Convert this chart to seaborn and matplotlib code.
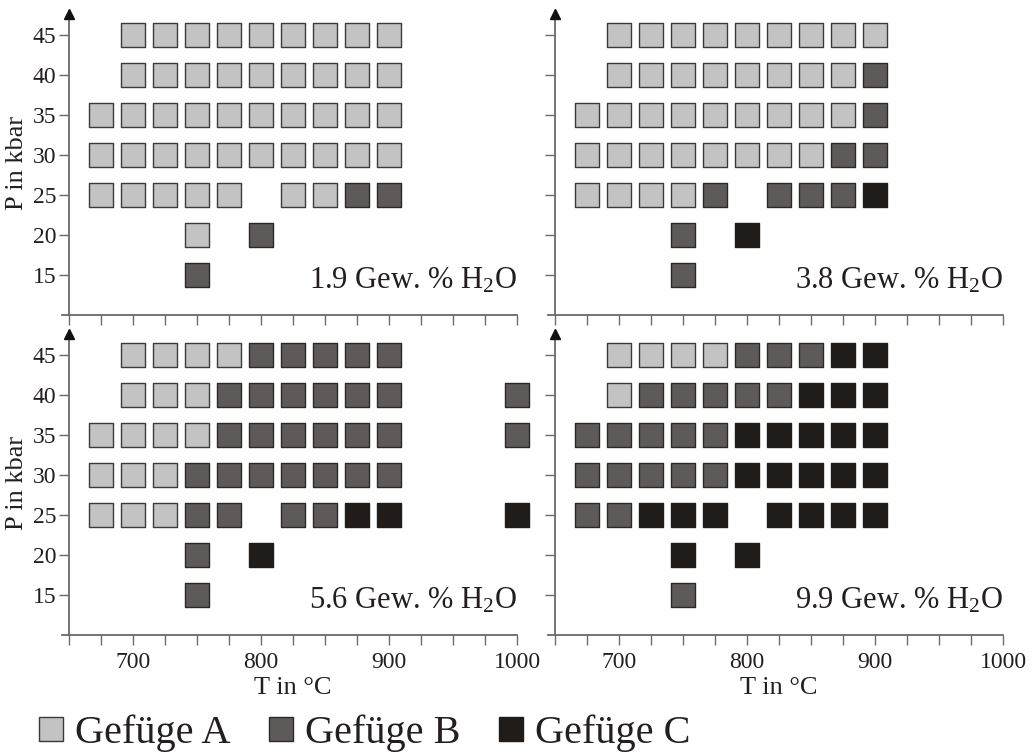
import matplotlib
matplotlib.use("Agg")
import matplotlib.pyplot as plt
from matplotlib.lines import Line2D
import numpy as np
import pandas as pd
import seaborn as sns

# --- DATA ---
# temperature columns (°C) that the rows below refer to
T_COLS = [675, 700, 725, 750, 775, 800, 825, 850, 875, 900, 1000]
P_ROWS = [45, 40, 35, 30, 25, 20, 15]

# one string per pressure row, one char per T column ('.' = no experiment)
GRID_19 = [".AAAAAAAAA.", ".AAAAAAAAA.", "AAAAAAAAAA.", "AAAAAAAAAA.",
           "AAAAA.AABB.", "...A.B.....", "...B......."]
GRID_38 = [".AAAAAAAAA.", ".AAAAAAAAB.", "AAAAAAAAAB.", "AAAAAAAABB.",
           "AAAAB.BBBC.", "...B.C.....", "...B......."]
GRID_56 = [".AAAABBBBB.", ".AAABBBBBBB", "AAAABBBBBBB", "AAABBBBBBB.",
           "AAABB.BBCCC", "...B.C.....", "...B......."]
GRID_99 = [".AAAABBBCC.", ".ABBBBBCCC.", "BBBBBCCCCC.", "BBBBBCCCCC.",
           "BBCCC.CCCC.", "...C.C.....", "...B......."]

PANELS = ["1.9 Gew. % H$_2$O", "3.8 Gew. % H$_2$O",
          "5.6 Gew. % H$_2$O", "9.9 Gew. % H$_2$O"]
GRIDS = [GRID_19, GRID_38, GRID_56, GRID_99]

PHASES = ["A", "B", "C"]
PHASE_LABELS = ["Gefüge A", "Gefüge B", "Gefüge C"]
FILL = {"A": "#c3c3c3", "B": "#5e5a59", "C": "#201c1a"}
EDGE = {"A": "#3a3a3a", "B": "#2c2828", "C": "#201c1a"}

X_TICKS = [650, 675, 700, 725, 750, 775, 800, 825, 850, 875, 900, 925, 950, 975, 1000]
X_TICKLABELS = ["", "", "700", "", "", "", "800", "", "", "", "900", "", "", "", "1000"]
Y_TICKS = [15, 20, 25, 30, 35, 40, 45]


def grid_to_frame(grid):
    rows = []
    for p, line in zip(P_ROWS, grid):
        for t, c in zip(T_COLS, line):
            if c != ".":
                rows.append({"T": t, "P": p, "phase": c})
    return pd.DataFrame(rows)


# --- STYLE ---
sns.set_style("white")
plt.rcParams["font.family"] = ["Liberation Serif", "DejaVu Serif"]
plt.rcParams["mathtext.fontset"] = "custom"
plt.rcParams["mathtext.rm"] = "Liberation Serif"
plt.rcParams["mathtext.it"] = "Liberation Serif:italic"
TXT = "#231f20"
AX_COL = "#6a6a6a"

fig = plt.figure(figsize=(10.32, 7.53), dpi=100)

W, H = 1032.0, 753.0
# axes boxes in pixels: (left, right, top, bottom)
boxes = [(62, 517, 11, 315), (548, 1003, 11, 315),
         (62, 517, 331, 635), (548, 1003, 331, 635)]

for i, (box, grid, title) in enumerate(zip(boxes, GRIDS, PANELS)):
    l, r, t, b = box
    ax = fig.add_axes([l / W, 1 - b / H, (r - l) / W, (b - t) / H])
    df = grid_to_frame(grid)
    for ph in PHASES:
        sub = df[df["phase"] == ph]
        if sub.empty:
            continue
        sns.scatterplot(data=sub, x="T", y="P", marker="s", s=310,
                        color=FILL[ph], edgecolor=EDGE[ph], linewidth=1.0,
                        ax=ax, legend=False, zorder=3)
    for coll in ax.collections:
        coll.set_clip_on(False)

    ax.set_xlim(644.5, 1000)
    ax.set_ylim(10, 48)
    for s in ["top", "right"]:
        ax.spines[s].set_visible(False)
    ax.spines["left"].set_position(("data", 650))
    for s in ["left", "bottom"]:
        ax.spines[s].set_color(AX_COL)
        ax.spines[s].set_linewidth(1.3)
    ax.plot([650], [47.6], marker="^", markersize=7, color="#111111",
            clip_on=False, zorder=4)

    ax.set_xticks(X_TICKS)
    ax.set_yticks(Y_TICKS)
    ax.tick_params(bottom=True, left=True, direction="out", length=7,
                   width=1.0, color=AX_COL, labelsize=17, labelcolor=TXT,
                   pad=2)
    ax.tick_params(axis="x", pad=5)
    if i >= 2:
        ax.set_xticklabels(X_TICKLABELS)
        ax.set_xlabel("T in °C", fontsize=19, color=TXT)
        ax.xaxis.set_label_coords(0.508, -0.138)
    else:
        ax.set_xticklabels([])
        ax.set_xlabel("")
    if i % 2 == 0:
        ax.set_ylabel("P in kbar", fontsize=19, color=TXT)
        ax.yaxis.set_label_coords(-0.075, 0.5)
    else:
        ax.set_yticklabels([])
        ax.set_ylabel("")

    ax.text(1000, 13.3, title, ha="right", va="baseline", fontsize=22,
            color=TXT)

handles = [Line2D([], [], marker="s", linestyle="", markersize=17,
                  markerfacecolor=FILL[ph], markeredgecolor=EDGE[ph],
                  markeredgewidth=1.0) for ph in PHASES]
fig.legend(handles, PHASE_LABELS, loc="center left",
           bbox_to_anchor=(39 / W, 1 - 733 / H), ncol=3, frameon=False,
           fontsize=29, handlelength=0.6, handletextpad=0.3,
           columnspacing=0.95, borderpad=0, borderaxespad=0,
           labelcolor=TXT)

fig.savefig("out.png", dpi=100)
